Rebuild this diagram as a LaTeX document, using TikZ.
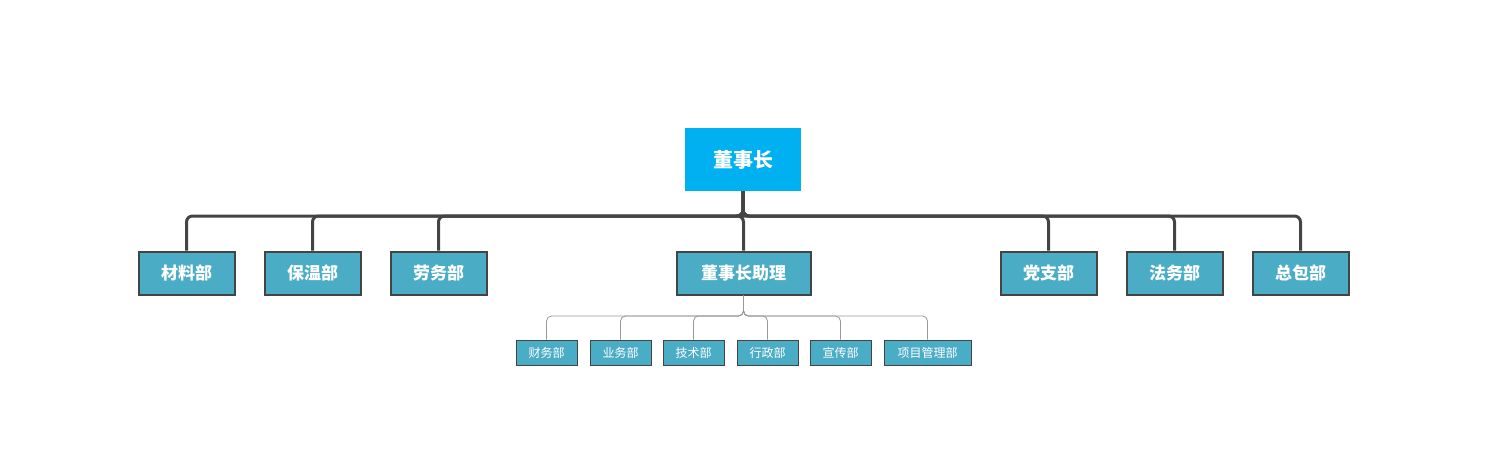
\documentclass[tikz,border=0pt]{standalone}
\usepackage{fontspec}
\setmainfont{Noto Sans CJK SC}
\begin{document}
\begin{tikzpicture}[x=1pt,y=-1pt,
  topbox/.style={fill=topc,text=white,font=\fontsize{20}{24}\selectfont\bfseries,minimum width=116pt,minimum height=63pt,inner sep=0pt},
  midbox/.style={fill=midc,draw=linec,line width=2pt,text=white,font=\fontsize{17}{20}\selectfont\bfseries,minimum height=43pt,inner sep=0pt},
  smallbox/.style={fill=midc,draw=linec,line width=0.6pt,text=white,font=\fontsize{12}{14}\selectfont,minimum height=25pt,inner sep=0pt},
  thickline/.style={draw=linec,line width=3pt,rounded corners=6pt},
  thinline/.style={draw=gray!80,line width=0.8pt,rounded corners=5pt}]
\definecolor{topc}{HTML}{00B0F0}
\definecolor{midc}{HTML}{4BACC6}
\definecolor{linec}{HTML}{444444}
\useasboundingbox (0,0) rectangle (1487,459);
\node[topbox] (top) at (743,159.5) {董事长};
\node[midbox,minimum width=96pt] (a) at (186.5,273) {材料部};
\node[midbox,minimum width=96pt] (b) at (312.5,273) {保温部};
\node[midbox,minimum width=96pt] (c) at (438.5,273) {劳务部};
\node[midbox,minimum width=134pt] (d) at (743.5,273) {董事长助理};
\node[midbox,minimum width=96pt] (e) at (1048.5,273) {党支部};
\node[midbox,minimum width=96pt] (f) at (1174.5,273) {法务部};
\node[midbox,minimum width=96pt] (g) at (1300.5,273) {总包部};
\node[smallbox,minimum width=61pt] (s1) at (546.5,352.5) {财务部};
\node[smallbox,minimum width=61pt] (s2) at (620.5,352.5) {业务部};
\node[smallbox,minimum width=61pt] (s3) at (693.5,352.5) {技术部};
\node[smallbox,minimum width=61pt] (s4) at (767.5,352.5) {行政部};
\node[smallbox,minimum width=61pt] (s5) at (840.5,352.5) {宣传部};
\node[smallbox,minimum width=87pt] (s6) at (927.5,352.5) {项目管理部};
\coordinate (bus) at (0,216);
\coordinate (sbus) at (0,316);
\foreach \n in {a,b,c,d,e,f,g}{\draw[thickline] (top.south) |- (bus -| \n.north) -- (\n.north);}
\foreach \n in {s1,s2,s3,s4,s5,s6}{\draw[thinline] (d.south) |- (sbus -| \n.north) -- (\n.north);}
\end{tikzpicture}
\end{document}
